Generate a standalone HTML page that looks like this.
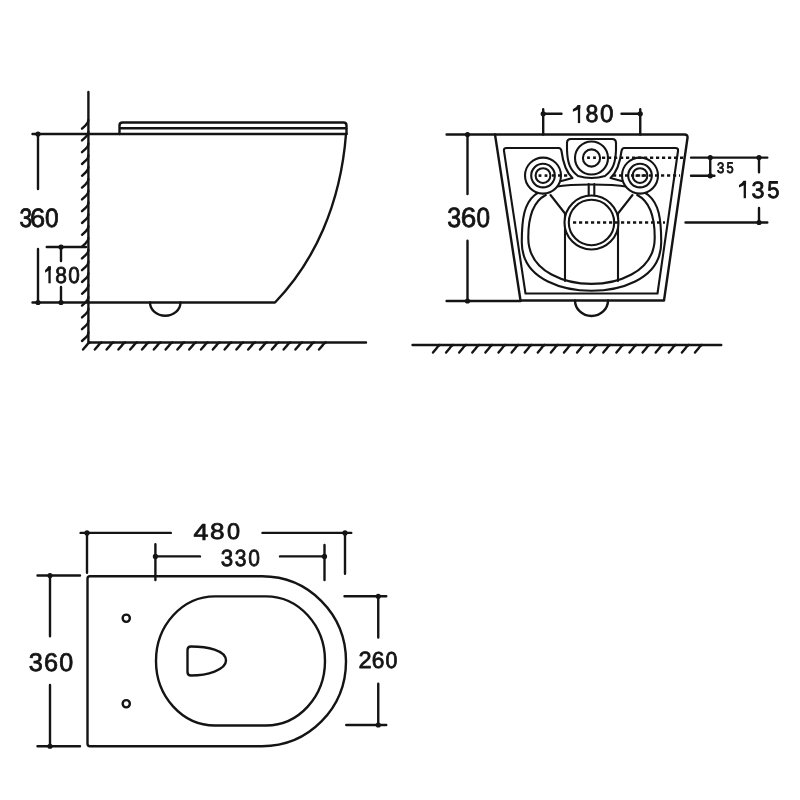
<!DOCTYPE html>
<html><head><meta charset="utf-8"><style>
html,body{margin:0;padding:0;background:#fff;}
svg{display:block;filter:grayscale(1);}
path,circle,rect{fill:none;stroke:#141414;stroke-width:2.4;stroke-linecap:round;stroke-linejoin:round;}
.w{fill:#fff;}
.t *{stroke-width:2.1;}
.f{fill:#141414;stroke:none;}
.one{stroke-width:2.3;stroke-linecap:butt;}
.d{stroke-dasharray:3.2 2.8;stroke-linecap:butt;stroke-width:2.5;}
text{font-family:"Liberation Sans",sans-serif;fill:#141414;stroke:#141414;stroke-linejoin:round;text-rendering:geometricPrecision;}
</style></head><body>
<svg width="800" height="800" viewBox="0 0 800 800">
<rect x="0" y="0" width="800" height="800" style="fill:#fff;stroke:none"/>
<path d="M88.4,92 V342.5 H366"/>
<path d="M82,128.6 L85.6,125.3 Q88.4,123.0 88.4,120.1"/>
<path d="M82,140.4 L85.6,137.1 Q88.4,134.8 88.4,131.9"/>
<path d="M82,152.2 L85.6,148.9 Q88.4,146.6 88.4,143.7"/>
<path d="M82,164.0 L85.6,160.7 Q88.4,158.4 88.4,155.5"/>
<path d="M82,175.8 L85.6,172.5 Q88.4,170.2 88.4,167.3"/>
<path d="M82,187.6 L85.6,184.3 Q88.4,182.0 88.4,179.1"/>
<path d="M82,199.4 L85.6,196.1 Q88.4,193.8 88.4,190.9"/>
<path d="M82,211.2 L85.6,207.9 Q88.4,205.6 88.4,202.7"/>
<path d="M82,223.0 L85.6,219.7 Q88.4,217.4 88.4,214.5"/>
<path d="M82,234.8 L85.6,231.5 Q88.4,229.2 88.4,226.3"/>
<path d="M82,246.6 L85.6,243.3 Q88.4,241.0 88.4,238.1"/>
<path d="M82,258.4 L85.6,255.1 Q88.4,252.8 88.4,249.9"/>
<path d="M82,270.2 L85.6,266.9 Q88.4,264.6 88.4,261.7"/>
<path d="M82,282.0 L85.6,278.7 Q88.4,276.4 88.4,273.5"/>
<path d="M82,293.8 L85.6,290.5 Q88.4,288.2 88.4,285.3"/>
<path d="M82,305.6 L85.6,302.3 Q88.4,300.0 88.4,297.1"/>
<path d="M82,317.4 L85.6,314.1 Q88.4,311.8 88.4,308.9"/>
<path d="M82,329.2 L85.6,325.9 Q88.4,323.6 88.4,320.7"/>
<path d="M82,341.0 L85.6,337.7 Q88.4,335.4 88.4,332.5"/>
<path d="M83.0,349.5 L86.6,345.4 Q87.8,343.2 89.8,342.5"/>
<path d="M94.8,349.5 L98.4,345.4 Q99.6,343.2 101.6,342.5"/>
<path d="M106.6,349.5 L110.2,345.4 Q111.4,343.2 113.4,342.5"/>
<path d="M118.4,349.5 L122.0,345.4 Q123.2,343.2 125.2,342.5"/>
<path d="M130.2,349.5 L133.8,345.4 Q135.0,343.2 137.0,342.5"/>
<path d="M142.0,349.5 L145.6,345.4 Q146.8,343.2 148.8,342.5"/>
<path d="M153.8,349.5 L157.4,345.4 Q158.6,343.2 160.6,342.5"/>
<path d="M165.6,349.5 L169.2,345.4 Q170.4,343.2 172.4,342.5"/>
<path d="M177.4,349.5 L181.0,345.4 Q182.2,343.2 184.2,342.5"/>
<path d="M189.2,349.5 L192.8,345.4 Q194.0,343.2 196.0,342.5"/>
<path d="M201.0,349.5 L204.6,345.4 Q205.8,343.2 207.8,342.5"/>
<path d="M212.8,349.5 L216.4,345.4 Q217.6,343.2 219.6,342.5"/>
<path d="M224.6,349.5 L228.2,345.4 Q229.4,343.2 231.4,342.5"/>
<path d="M236.4,349.5 L240.0,345.4 Q241.2,343.2 243.2,342.5"/>
<path d="M248.2,349.5 L251.8,345.4 Q253.0,343.2 255.0,342.5"/>
<path d="M260.0,349.5 L263.6,345.4 Q264.8,343.2 266.8,342.5"/>
<path d="M271.8,349.5 L275.4,345.4 Q276.6,343.2 278.6,342.5"/>
<path d="M283.6,349.5 L287.2,345.4 Q288.4,343.2 290.4,342.5"/>
<path d="M295.4,349.5 L299.0,345.4 Q300.2,343.2 302.2,342.5"/>
<path d="M307.2,349.5 L310.8,345.4 Q312.0,343.2 314.0,342.5"/>
<path d="M319.0,349.5 L322.6,345.4 Q323.8,343.2 325.8,342.5"/>
<path d="M119.5,134 V125.5 Q119.5,122.5 122.5,122.5 H343.5 Q346.5,122.5 346.5,125.5 V134"/>
<path d="M120.5,128.2 H346"/>
<path d="M32.5,134 H346.5"/>
<path d="M346,134 C340.5,205 314,262 275,302.5 H32.5"/>
<path d="M150,302.5 A15.25,13.2 0 0 0 180.5,302.5"/>
<path d="M38,134 V189 M38,249 V302.5"/>
<path d="M61,247 V261 M61,287 V302.5 M46.75,247 H86"/>
<circle cx="38" cy="134" r="2.6" class="f"/>
<circle cx="38" cy="302.5" r="2.6" class="f"/>
<circle cx="61" cy="247" r="2.6" class="f"/>
<circle cx="61" cy="302.5" r="2.6" class="f"/>
<text transform="translate(19.55,227.13) scale(22.737,26.714)" font-size="1" stroke-width="0.0324">3</text>
<text transform="translate(30.04,227.13) scale(27.243,26.714)" font-size="1" stroke-width="0.0297">6</text>
<text transform="translate(45.02,227.13) scale(24.503,26.714)" font-size="1" stroke-width="0.0312">0</text>
<path class="one" d="M49.55,266.50 V283.30"/><path class="f" d="M50.85,266.20 L48.25,266.20 Q46.95,268.54 45.06,270.24 L45.06,272.74 Q46.95,271.24 50.85,269.70 Z"/>
<text transform="translate(55.26,282.67) scale(20.957,23.039)" font-size="1" stroke-width="0.0364">8</text>
<text transform="translate(68.27,282.67) scale(20.733,23.039)" font-size="1" stroke-width="0.0366">0</text>
<path d="M412.5,345 H721.25"/>
<path d="M433.0,352.5 L436.6,348.2 Q437.8,345.7 439.8,345"/>
<path d="M446.1,352.5 L449.7,348.2 Q450.9,345.7 452.9,345"/>
<path d="M459.2,352.5 L462.8,348.2 Q464.0,345.7 466.0,345"/>
<path d="M472.3,352.5 L475.9,348.2 Q477.1,345.7 479.1,345"/>
<path d="M485.4,352.5 L489.0,348.2 Q490.2,345.7 492.2,345"/>
<path d="M498.5,352.5 L502.1,348.2 Q503.3,345.7 505.3,345"/>
<path d="M511.6,352.5 L515.2,348.2 Q516.4,345.7 518.4,345"/>
<path d="M524.7,352.5 L528.3,348.2 Q529.5,345.7 531.5,345"/>
<path d="M537.8,352.5 L541.4,348.2 Q542.6,345.7 544.6,345"/>
<path d="M550.9,352.5 L554.5,348.2 Q555.7,345.7 557.7,345"/>
<path d="M564.0,352.5 L567.6,348.2 Q568.8,345.7 570.8,345"/>
<path d="M577.1,352.5 L580.7,348.2 Q581.9,345.7 583.9,345"/>
<path d="M590.2,352.5 L593.8,348.2 Q595.0,345.7 597.0,345"/>
<path d="M603.3,352.5 L606.9,348.2 Q608.1,345.7 610.1,345"/>
<path d="M616.4,352.5 L620.0,348.2 Q621.2,345.7 623.2,345"/>
<path d="M629.5,352.5 L633.1,348.2 Q634.3,345.7 636.3,345"/>
<path d="M642.6,352.5 L646.2,348.2 Q647.4,345.7 649.4,345"/>
<path d="M655.7,352.5 L659.3,348.2 Q660.5,345.7 662.5,345"/>
<path d="M668.8,352.5 L672.4,348.2 Q673.6,345.7 675.6,345"/>
<path d="M681.9,352.5 L685.5,348.2 Q686.7,345.7 688.7,345"/>
<path d="M695.0,352.5 L698.6,348.2 Q699.8,345.7 701.8,345"/>
<path d="M495,134.5 H684.5 Q688,134.5 687.5,138 L664,300.5 H520.5 Z"/>
<path d="M575,300.5 A16.5,15.5 0 0 0 608,300.5"/>
<g class="t">
<path d="M558.5,148 H506.5 Q503.5,148 504,151 L525.5,293.5 H657.5 L678,151 Q678.5,148 675.5,148 H624.5"/>
<path d="M558.5,148 Q561,148 561.5,151 C563,163 566,172 572.5,178 L561.5,181"/>
<path d="M624.5,148 Q622,148 621.5,151 C620,163 617,172 610.5,178 L621.5,181"/>
<path d="M578,176 C570,170 567.5,163 567,150 V143 Q567,139 571,139 H612 Q616,139 616,143 V150 C615.5,163 613,170 605,176 Q598.5,178 591.5,178 Q584.5,178 578,176 Z"/>
<path class="w" d="M521.78,242.23 C521.78,193.79 532.31,184.5 591.5,184.5 C650.69,184.5 661.22,193.79 661.22,242.23 C661.22,282.13 614.86,290.8 591.5,290.8 C568.14,290.8 521.78,282.13 521.78,242.23 Z"/>
<path d="M545.76,195.04 C534.85,200.71 528.27,212.61 528.27,237.49 C528.27,274.31 569.18,283.9 591.5,283.9 C613.82,283.9 654.73,274.31 654.73,237.49 C654.73,212.61 648.15,200.71 637.24,195.04"/>
<path d="M588.7,184 V197 M594.3,184 V197"/>
<path d="M550.5,195 L565,213.5 V281 M632.5,195 L618,213.5 V281"/>
<circle cx="591.5" cy="222.5" r="27" class="w"/>
<circle cx="591.5" cy="222.5" r="22.7"/>
<circle cx="591.5" cy="158" r="16.5" class="w"/>
<circle cx="591.5" cy="158" r="8.6"/>
<circle cx="543" cy="175.6" r="18" class="w"/>
<circle cx="543" cy="175.6" r="11.8"/>
<circle cx="543" cy="175.6" r="7.4"/>
<circle cx="640" cy="175.6" r="18" class="w"/>
<circle cx="640" cy="175.6" r="11.8"/>
<circle cx="640" cy="175.6" r="7.4"/>
</g>
<path class="d" d="M602,157.7 H684 M552,175.6 H570 M613,175.6 H680 M573,222.5 H665"/>
<rect x="587.1" y="156.39999999999998" width="2.8" height="2.6" class="f"/>
<rect x="593.1" y="156.39999999999998" width="2.8" height="2.6" class="f"/>
<rect x="538.6" y="174.29999999999998" width="2.8" height="2.6" class="f"/>
<rect x="544.6" y="174.29999999999998" width="2.8" height="2.6" class="f"/>
<rect x="635.6" y="174.29999999999998" width="2.8" height="2.6" class="f"/>
<rect x="641.6" y="174.29999999999998" width="2.8" height="2.6" class="f"/>
<path d="M446.6,134.5 H495 M446.6,301 H520.5 M467.5,134.5 V194 M467.5,240.7 V301"/>
<circle cx="467.5" cy="134.5" r="2.6" class="f"/>
<circle cx="467.5" cy="301" r="2.6" class="f"/>
<text transform="translate(447.31,227.32) scale(24.947,27.845)" font-size="1" stroke-width="0.0303">3</text>
<text transform="translate(460.81,227.32) scale(27.892,27.845)" font-size="1" stroke-width="0.0287">6</text>
<text transform="translate(476.53,227.32) scale(24.293,27.845)" font-size="1" stroke-width="0.0307">0</text>
<path d="M543.2,109.25 V134.5 M640.25,109.25 V134.5 M543.2,113.75 H561.5 M621.5,113.75 H640.25"/>
<circle cx="543.2" cy="113.75" r="2.6" class="f"/>
<circle cx="640.25" cy="113.75" r="2.6" class="f"/>
<path class="one" d="M579.00,105.20 V123.10"/><path class="f" d="M580.30,104.90 L577.70,104.90 Q576.40,107.61 572.90,109.31 L572.90,111.81 Q576.40,110.31 580.30,108.40 Z"/>
<text transform="translate(585.61,122.45) scale(23.191,24.594)" font-size="1" stroke-width="0.0335">8</text>
<text transform="translate(599.93,122.45) scale(24.293,24.594)" font-size="1" stroke-width="0.0327">0</text>
<path d="M691,157.6 H767.3 M691,175.8 H714.4 M710.25,157.6 V175.8 M759,157.6 V172.3 M759,208 V222.5 M685.5,222.5 H767.3"/>
<circle cx="710.25" cy="157.6" r="2.6" class="f"/>
<circle cx="710.25" cy="175.8" r="2.6" class="f"/>
<circle cx="759" cy="157.6" r="2.6" class="f"/>
<circle cx="759" cy="222.5" r="2.6" class="f"/>
<text transform="translate(716.91,173.05) scale(13.053,15.124)" font-size="1" stroke-width="0.0568">3</text>
<text transform="translate(726.59,173.05) scale(12.842,15.341)" font-size="1" stroke-width="0.0568">5</text>
<path class="one" d="M744.80,181.00 V198.20"/><path class="f" d="M746.10,180.70 L743.50,180.70 Q742.20,183.17 739.00,184.88 L739.00,187.38 Q742.20,185.88 746.10,184.20 Z"/>
<text transform="translate(751.62,197.56) scale(23.368,23.604)" font-size="1" stroke-width="0.0341">3</text>
<text transform="translate(767.27,197.56) scale(22.000,23.943)" font-size="1" stroke-width="0.0348">5</text>
<path d="M90,576.25 H262 C308.5,576.25 346,614 346,661.25 C346,708.5 308.5,746.25 262,746.25 H90 Q87.5,746.25 87.5,743.75 V578.75 Q87.5,576.25 90,576.25 Z"/>
<rect x="156" y="596.4" width="169" height="129.1" rx="59" ry="64.5"/>
<path d="M191,646.5 C207,646.5 226,650 226,660.6 C226,670 207,675.5 191,675.5 Q187.5,675.5 187.5,672 V650 Q187.5,646.5 191,646.5 Z"/>
<circle cx="126.25" cy="618.25" r="3.6"/>
<circle cx="126.25" cy="703.75" r="3.6"/>
<path d="M80.6,532.9 H170.8 M262.5,532.9 H351.25 M87,532.9 V572.7 M345,532.9 V573.75"/>
<circle cx="87" cy="532.9" r="2.6" class="f"/>
<circle cx="345" cy="532.9" r="2.6" class="f"/>
<text transform="translate(193.59,539.60) scale(26.931,23.273)" font-size="1" stroke-width="0.0319">4</text>
<text transform="translate(209.89,539.37) scale(26.170,22.615)" font-size="1" stroke-width="0.0328">8</text>
<text transform="translate(226.96,539.37) scale(23.455,22.615)" font-size="1" stroke-width="0.0347">0</text>
<path d="M155.4,544.3 V580 M324.5,545 V580 M155.4,556.4 H200 M280,556.4 H324.5"/>
<circle cx="155.4" cy="556.4" r="2.6" class="f"/>
<circle cx="324.5" cy="556.4" r="2.6" class="f"/>
<text transform="translate(220.66,566.17) scale(22.316,23.463)" font-size="1" stroke-width="0.0350">3</text>
<text transform="translate(234.81,566.17) scale(21.053,23.463)" font-size="1" stroke-width="0.0359">3</text>
<text transform="translate(248.26,566.17) scale(20.942,23.463)" font-size="1" stroke-width="0.0360">0</text>
<path d="M37.5,575.5 H80 M37.5,746.25 H80 M50,575.5 V636.25 M50,685 V746.25"/>
<circle cx="50" cy="575.5" r="2.6" class="f"/>
<circle cx="50" cy="746.25" r="2.6" class="f"/>
<text transform="translate(28.85,671.34) scale(25.263,25.583)" font-size="1" stroke-width="0.0315">3</text>
<text transform="translate(44.04,671.34) scale(25.297,25.583)" font-size="1" stroke-width="0.0314">6</text>
<text transform="translate(59.19,671.34) scale(25.131,25.583)" font-size="1" stroke-width="0.0315">0</text>
<path d="M344.5,596.25 H386.25 M346.25,725 H386.25 M378.25,596.25 V637.5 M378.25,683.75 V725"/>
<circle cx="378.25" cy="596.25" r="2.6" class="f"/>
<circle cx="378.25" cy="725" r="2.6" class="f"/>
<text transform="translate(358.42,668.40) scale(23.626,23.513)" font-size="1" stroke-width="0.0339">2</text>
<text transform="translate(371.86,668.17) scale(22.703,23.180)" font-size="1" stroke-width="0.0349">6</text>
<text transform="translate(385.55,668.17) scale(21.361,23.180)" font-size="1" stroke-width="0.0359">0</text>
</svg></body></html>
